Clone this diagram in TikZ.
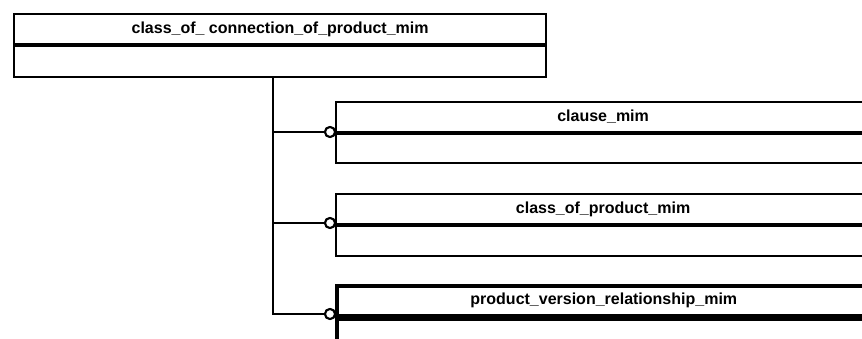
\documentclass[tikz,border=0pt]{standalone}
\usepackage{fontspec}
\setmainfont{Liberation Sans}
\begin{document}
\begin{tikzpicture}[x=1pt,y=-1pt,
  lbl/.style={font=\fontsize{16}{18}\selectfont\bfseries},
  hdr/.style={draw, line width=2.2pt, rectangle, inner sep=0pt, anchor=north west, minimum height=30pt, lbl},
  bodybox/.style={draw, line width=2.2pt, rectangle, inner sep=0pt, anchor=north west},
  heavy/.style={line width=3.6pt},
  conn/.style={line width=2pt},
  ring/.style={draw, circle, line width=2pt, fill=white, minimum size=10pt, inner sep=0pt}
]
\useasboundingbox (0,0) rectangle (862,339);
\clip (0,0) rectangle (862,339);
\fill[white] (0,0) rectangle (862,339);

% top entity
\node[hdr, minimum width=532pt] (tophdr) at (13,13) {class\_of\_ connection\_of\_product\_mim};
\node[bodybox, minimum width=532pt, minimum height=31pt] (topbody) at (tophdr.south west) {};
\draw[heavy] (tophdr.south west) -- (tophdr.south east);

% entity 1
\node[hdr, minimum width=534pt] (e1hdr) at (335,101) {clause\_mim};
\node[bodybox, minimum width=534pt, minimum height=29pt] (e1body) at (e1hdr.south west) {};

% entity 2
\node[hdr, minimum width=534pt] (e2hdr) at (335,193) {class\_of\_product\_mim};
\node[bodybox, minimum width=534pt, minimum height=30pt] (e2body) at (e2hdr.south west) {};

% entity 3
\node[hdr, minimum width=534pt, line width=3.6pt] (e3hdr) at (335,284) {product\_version\_relationship\_mim};
\node[bodybox, minimum width=534pt, minimum height=60pt, line width=3.6pt] (e3body) at (e3hdr.south west) {};

% connectors
\node[ring] (c1) at (330,132) {};
\node[ring] (c2) at (330,223) {};
\node[ring] (c3) at (330,314) {};
\coordinate (j1) at (273,132);
\coordinate (j2) at (273,223);
\coordinate (j3) at (273,314);
\draw[conn] (topbody.south -| j3) -- (j3) -- (c3.west);
\draw[conn] (j1) -- (c1.west);
\draw[conn] (j2) -- (c2.west);
\node[ring] at (c1) {};
\node[ring] at (c2) {};
\node[ring] at (c3) {};
\end{tikzpicture}
\end{document}
